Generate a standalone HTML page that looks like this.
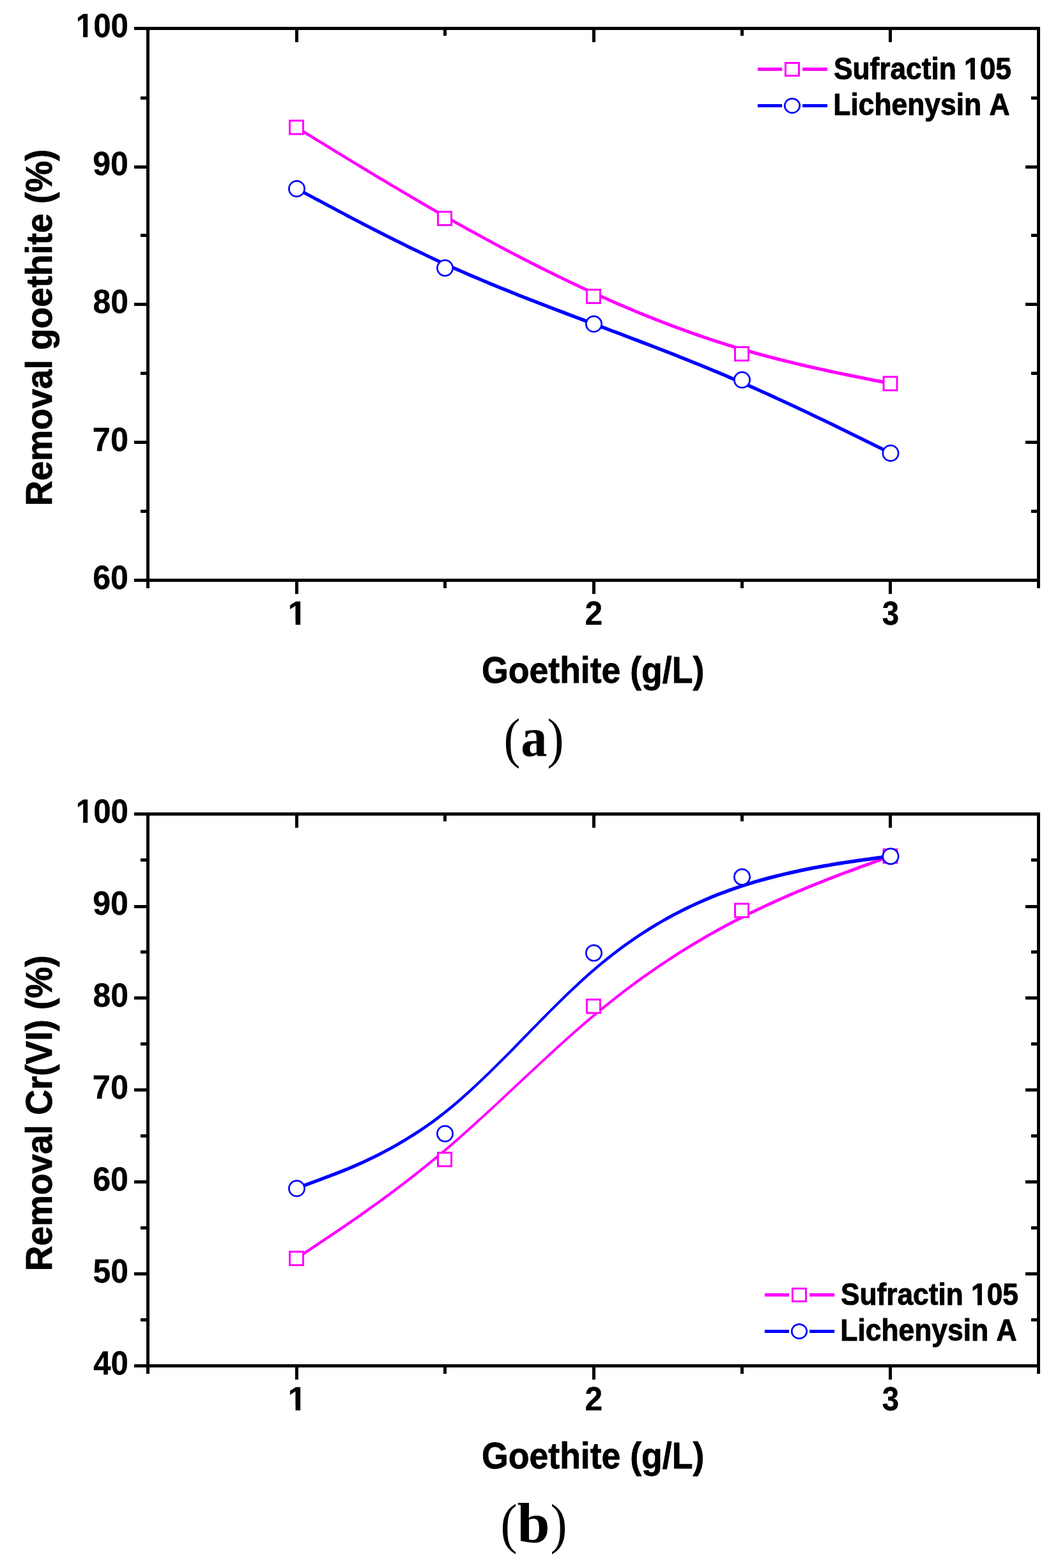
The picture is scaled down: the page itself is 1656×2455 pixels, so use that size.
<!DOCTYPE html>
<html lang="en"><head><meta charset="utf-8"><title>Removal of goethite and Cr(VI) versus goethite dose</title>
<style>html,body{margin:0;padding:0;background:#fff}body{width:1656px;height:2455px;overflow:hidden}svg{display:block}text{font-family:"Liberation Sans",Arial,Helvetica,sans-serif;font-weight:bold;fill:#000;font-kerning:none}.cap{font-family:"Liberation Serif","Times New Roman",serif;font-weight:normal}.cap .b{font-weight:bold}</style></head><body>
<svg width="1656" height="2455" viewBox="0 0 1656 2455">
<rect width="1656" height="2455" fill="#fff"/>
<g fill="#000" shape-rendering="crispEdges">
<rect x="210.0" y="42.0" width="1418.0" height="5.0"/>
<rect x="210.0" y="906.0" width="1418.0" height="5.0"/>
<rect x="229.0" y="42.0" width="5.0" height="879.0"/>
<rect x="1623.0" y="42.0" width="5.0" height="879.0"/>
<rect x="462.0" y="47.0" width="5.0" height="18.5"/>
<rect x="462.0" y="911.0" width="5.0" height="18.5"/>
<rect x="694.0" y="47.0" width="5.0" height="9"/>
<rect x="694.0" y="911.0" width="5.0" height="10"/>
<rect x="927.0" y="47.0" width="5.0" height="18.5"/>
<rect x="927.0" y="911.0" width="5.0" height="18.5"/>
<rect x="1159.0" y="47.0" width="5.0" height="9"/>
<rect x="1159.0" y="911.0" width="5.0" height="10"/>
<rect x="1391.0" y="47.0" width="5.0" height="18.5"/>
<rect x="1391.0" y="911.0" width="5.0" height="18.5"/>
<rect x="220.0" y="798.0" width="9" height="5.0"/>
<rect x="1614.0" y="798.0" width="9" height="5.0"/>
<rect x="210.0" y="690.0" width="19" height="5.0"/>
<rect x="1605.0" y="690.0" width="18" height="5.0"/>
<rect x="220.0" y="582.0" width="9" height="5.0"/>
<rect x="1614.0" y="582.0" width="9" height="5.0"/>
<rect x="210.0" y="474.0" width="19" height="5.0"/>
<rect x="1605.0" y="474.0" width="18" height="5.0"/>
<rect x="220.0" y="366.0" width="9" height="5.0"/>
<rect x="1614.0" y="366.0" width="9" height="5.0"/>
<rect x="210.0" y="259.0" width="19" height="5.0"/>
<rect x="1605.0" y="259.0" width="18" height="5.0"/>
<rect x="220.0" y="151.0" width="9" height="5.0"/>
<rect x="1614.0" y="151.0" width="9" height="5.0"/>
</g>
<g transform="translate(145.16 921.50) scale(0.9643 1)"><text font-size="52.02" stroke="#000" stroke-width="0.41" stroke-linejoin="round">60</text></g>
<g transform="translate(144.83 705.50) scale(0.9702 1)"><text font-size="52.02" stroke="#000" stroke-width="0.41" stroke-linejoin="round">70</text></g>
<g transform="translate(145.42 489.50) scale(0.9598 1)"><text font-size="52.02" stroke="#000" stroke-width="0.42" stroke-linejoin="round">80</text></g>
<g transform="translate(145.26 273.50) scale(0.9625 1)"><text font-size="52.02" stroke="#000" stroke-width="0.42" stroke-linejoin="round">90</text></g>
<g transform="translate(118.73 57.50) scale(0.9470 1)"><text font-size="52.02" stroke="#000" stroke-width="0.42" stroke-linejoin="round">100</text><rect x="1.78" y="-6.12" width="10.15" height="8.53" fill="#fff"/><rect x="19.49" y="-6.12" width="9.49" height="8.53" fill="#fff"/></g>
<g transform="translate(450.50 977.70) scale(1.0113 1)"><text font-size="52.02" stroke="#000" stroke-width="0.40" stroke-linejoin="round">1</text><rect x="1.78" y="-6.11" width="10.17" height="8.50" fill="#fff"/><rect x="19.48" y="-6.11" width="9.51" height="8.50" fill="#fff"/></g>
<g transform="translate(915.58 977.70) scale(0.9543 1)"><text font-size="52.02" stroke="#000" stroke-width="0.42" stroke-linejoin="round">2</text></g>
<g transform="translate(1380.71 977.70) scale(0.9127 1)"><text font-size="52.02" stroke="#000" stroke-width="0.44" stroke-linejoin="round">3</text></g>
<g transform="translate(754.10 1068.70) scale(0.9395 1)"><text font-size="57.04" stroke="#000" stroke-width="0.85" stroke-linejoin="round">Goethite (g/L)</text></g>
<text transform="translate(80.80 792.28) rotate(-90) scale(0.9634 1)" font-size="57.04" stroke="#000" stroke-width="0.83" stroke-linejoin="round">Removal goethite (%)</text>
<path d="M464.0 202.1L462.8 201.4L462.8 201.4L462.9 201.4L463.0 201.5L463.1 201.6L463.4 201.7L463.8 201.9L464.2 202.2L464.8 202.6L465.6 203.1L466.5 203.6L467.6 204.3L468.9 205.1L470.5 206.1L472.2 207.2L474.3 208.4L476.5 209.8L479.1 211.4L482.0 213.2L485.2 215.1L488.7 217.3L492.6 219.7L496.8 222.3L501.5 225.1L506.5 228.2L511.9 231.5L517.7 235.1L523.8 238.9L530.3 242.8L537.1 247.0L544.2 251.3L551.6 255.8L559.3 260.5L567.2 265.3L575.3 270.2L583.7 275.2L592.2 280.4L601.0 285.6L609.9 290.9L619.0 296.3L628.2 301.8L637.5 307.3L646.9 312.8L656.4 318.4L666.0 323.9L675.6 329.5L685.3 335.1L695.0 340.6L704.7 346.1L714.4 351.6L724.1 357.0L733.8 362.4L743.5 367.7L753.2 373.1L762.9 378.3L772.6 383.5L782.3 388.7L792.0 393.9L801.7 399.0L811.4 404.0L821.1 409.0L830.8 414.0L840.5 418.9L850.2 423.8L859.9 428.6L869.6 433.4L879.3 438.1L889.0 442.8L898.7 447.4L908.4 451.9L918.1 456.4L927.8 460.9L937.5 465.3L947.2 469.6L956.9 473.9L966.6 478.2L976.3 482.3L986.0 486.4L995.7 490.5L1005.3 494.5L1015.0 498.4L1024.7 502.3L1034.4 506.1L1044.1 509.8L1053.8 513.5L1063.5 517.1L1073.1 520.6L1082.8 524.1L1092.5 527.5L1102.2 530.8L1111.9 534.0L1121.6 537.2L1131.3 540.3L1141.0 543.4L1150.7 546.3L1160.4 549.2L1170.0 552.1L1179.7 554.8L1189.4 557.5L1198.9 560.0L1208.5 562.5L1217.9 565.0L1227.2 567.3L1236.5 569.6L1245.6 571.8L1254.5 573.9L1263.3 576.0L1271.8 577.9L1280.2 579.8L1288.4 581.6L1296.3 583.4L1304.0 585.0L1311.4 586.6L1318.5 588.1L1325.3 589.5L1331.8 590.8L1338.0 592.1L1343.8 593.2L1349.2 594.3L1354.2 595.3L1358.9 596.3L1363.1 597.1L1367.0 597.9L1370.6 598.6L1373.8 599.3L1376.6 599.8L1379.2 600.3L1381.5 600.8L1383.5 601.2L1385.3 601.6L1386.8 601.9L1388.1 602.1L1389.2 602.3L1390.2 602.5L1390.9 602.7L1391.5 602.8L1392.0 602.9L1392.4 603.0L1392.6 603.0L1392.8 603.1L1392.9 603.1L1393.0 603.1L1393.0 603.1L1393.0 603.1L1394.0 597.9L1394.0 597.9L1394.0 597.9L1393.9 597.9L1393.8 597.9L1393.7 597.8L1393.4 597.8L1393.1 597.7L1392.6 597.6L1392.0 597.5L1391.2 597.3L1390.3 597.2L1389.2 596.9L1387.9 596.7L1386.3 596.4L1384.6 596.0L1382.5 595.6L1380.2 595.1L1377.7 594.6L1374.8 594.1L1371.6 593.4L1368.1 592.7L1364.2 591.9L1359.9 591.1L1355.3 590.2L1350.2 589.1L1344.8 588.1L1339.0 586.9L1332.9 585.6L1326.4 584.3L1319.6 582.9L1312.5 581.4L1305.1 579.9L1297.4 578.2L1289.5 576.5L1281.4 574.7L1273.0 572.8L1264.4 570.9L1255.7 568.8L1246.8 566.7L1237.7 564.5L1228.5 562.3L1219.2 559.9L1209.8 557.5L1200.3 555.0L1190.7 552.4L1181.1 549.8L1171.5 547.1L1161.8 544.3L1152.2 541.4L1142.5 538.4L1132.8 535.4L1123.2 532.3L1113.5 529.2L1103.9 525.9L1094.2 522.6L1084.5 519.3L1074.9 515.8L1065.2 512.3L1055.6 508.7L1045.9 505.1L1036.2 501.4L1026.6 497.6L1016.9 493.7L1007.2 489.8L997.6 485.9L987.9 481.8L978.2 477.8L968.6 473.6L958.9 469.4L949.2 465.1L939.5 460.8L929.9 456.4L920.2 452.0L910.5 447.5L900.8 443.0L891.1 438.4L881.4 433.7L871.7 429.0L862.1 424.3L852.4 419.5L842.7 414.6L833.0 409.7L823.3 404.8L813.6 399.8L803.9 394.7L794.2 389.7L784.5 384.5L774.8 379.4L765.1 374.1L755.5 368.9L745.8 363.6L736.1 358.3L726.4 352.9L716.7 347.5L707.0 342.0L697.3 336.5L687.6 331.0L678.0 325.5L668.4 319.9L658.8 314.3L649.3 308.8L639.9 303.3L630.5 297.8L621.3 292.3L612.3 286.9L603.4 281.6L594.6 276.4L586.0 271.3L577.7 266.2L569.5 261.3L561.6 256.5L554.0 251.9L546.6 247.4L539.5 243.1L532.7 238.9L526.2 234.9L520.1 231.2L514.3 227.6L508.9 224.3L503.9 221.2L499.2 218.4L495.0 215.7L491.1 213.4L487.6 211.2L484.4 209.2L481.5 207.5L478.9 205.9L476.7 204.5L474.6 203.2L472.9 202.2L471.3 201.2L470.0 200.4L468.9 199.7L468.0 199.2L467.2 198.7L466.6 198.3L466.2 198.0L465.8 197.8L465.6 197.7L465.4 197.6L465.3 197.5L465.2 197.5L465.2 197.4L464.0 196.7Z" fill="#ff00ff"/>
<rect x="453.50" y="188.90" width="21.0" height="21.0" fill="#fff" stroke="#ff00ff" stroke-width="3.0"/>
<rect x="685.50" y="331.50" width="21.0" height="21.0" fill="#fff" stroke="#ff00ff" stroke-width="3.0"/>
<rect x="918.50" y="453.50" width="21.0" height="21.0" fill="#fff" stroke="#ff00ff" stroke-width="3.0"/>
<rect x="1150.50" y="543.50" width="21.0" height="21.0" fill="#fff" stroke="#ff00ff" stroke-width="3.0"/>
<rect x="1383.00" y="590.00" width="21.0" height="21.0" fill="#fff" stroke="#ff00ff" stroke-width="3.0"/>
<path d="M464.0 298.1L462.8 297.5L462.8 297.5L462.9 297.5L463.0 297.6L463.1 297.6L463.4 297.8L463.8 298.0L464.2 298.2L464.8 298.5L465.6 299.0L466.5 299.4L467.6 300.0L468.9 300.7L470.5 301.6L472.2 302.5L474.3 303.6L476.5 304.8L479.1 306.2L482.0 307.7L485.2 309.4L488.7 311.3L492.6 313.4L496.8 315.7L501.5 318.1L506.5 320.8L511.9 323.7L517.7 326.8L523.8 330.1L530.3 333.5L537.1 337.1L544.2 340.9L551.6 344.7L559.3 348.7L567.2 352.9L575.3 357.1L583.7 361.4L592.2 365.8L601.0 370.2L609.9 374.7L619.0 379.2L628.2 383.8L637.5 388.4L647.0 393.0L656.5 397.6L666.1 402.1L675.7 406.7L685.4 411.2L695.1 415.6L704.8 420.0L714.5 424.4L724.2 428.6L733.9 432.9L743.6 437.0L753.3 441.1L763.0 445.2L772.7 449.2L782.4 453.2L792.1 457.1L801.8 461.0L811.5 464.9L821.2 468.7L830.9 472.5L840.6 476.3L850.3 480.1L860.0 483.8L869.7 487.5L879.4 491.2L889.1 494.9L898.8 498.5L908.5 502.2L918.2 505.9L927.9 509.5L937.6 513.2L947.2 516.8L956.9 520.5L966.6 524.1L976.3 527.8L986.0 531.5L995.6 535.2L1005.3 538.9L1015.0 542.6L1024.7 546.3L1034.3 550.1L1044.0 553.8L1053.7 557.6L1063.3 561.4L1073.0 565.3L1082.7 569.2L1092.3 573.1L1102.0 577.0L1111.7 581.0L1121.3 585.0L1131.0 589.1L1140.7 593.2L1150.4 597.3L1160.0 601.5L1169.7 605.7L1179.3 610.0L1189.0 614.3L1198.5 618.6L1208.0 622.9L1217.5 627.2L1226.8 631.5L1236.0 635.8L1245.0 640.0L1254.0 644.2L1262.7 648.3L1271.3 652.4L1279.7 656.4L1287.8 660.3L1295.7 664.1L1303.4 667.8L1310.8 671.4L1317.9 674.9L1324.7 678.2L1331.2 681.4L1337.3 684.4L1343.1 687.3L1348.6 689.9L1353.6 692.4L1358.2 694.7L1362.5 696.8L1366.4 698.7L1369.9 700.5L1373.1 702.0L1376.0 703.5L1378.6 704.7L1380.9 705.9L1382.9 706.9L1384.7 707.7L1386.2 708.5L1387.5 709.1L1388.6 709.7L1389.5 710.1L1390.3 710.5L1390.9 710.8L1391.4 711.1L1391.7 711.2L1392.0 711.4L1392.2 711.4L1392.3 711.5L1392.3 711.5L1392.3 711.5L1392.3 711.5L1394.7 706.9L1394.6 706.9L1394.6 706.9L1394.6 706.8L1394.5 706.8L1394.3 706.7L1394.0 706.6L1393.7 706.4L1393.2 706.2L1392.6 705.9L1391.8 705.5L1390.9 705.0L1389.8 704.5L1388.5 703.8L1387.0 703.1L1385.2 702.2L1383.2 701.2L1380.9 700.1L1378.3 698.8L1375.4 697.4L1372.2 695.8L1368.7 694.1L1364.8 692.1L1360.5 690.0L1355.9 687.8L1350.9 685.3L1345.4 682.6L1339.6 679.7L1333.5 676.7L1327.0 673.5L1320.2 670.2L1313.1 666.7L1305.7 663.1L1298.0 659.4L1290.1 655.6L1281.9 651.7L1273.5 647.7L1265.0 643.6L1256.2 639.4L1247.3 635.2L1238.2 631.0L1229.0 626.7L1219.7 622.4L1210.2 618.1L1200.7 613.7L1191.1 609.4L1181.5 605.1L1171.8 600.8L1162.1 596.6L1152.5 592.4L1142.8 588.2L1133.1 584.1L1123.4 580.1L1113.7 576.0L1104.1 572.1L1094.4 568.1L1084.7 564.2L1075.0 560.3L1065.3 556.4L1055.7 552.6L1046.0 548.8L1036.3 545.0L1026.6 541.3L1016.9 537.5L1007.3 533.8L997.6 530.1L987.9 526.4L978.2 522.7L968.5 519.0L958.8 515.4L949.2 511.7L939.5 508.1L929.8 504.4L920.1 500.8L910.4 497.1L900.7 493.5L891.0 489.8L881.3 486.1L871.6 482.4L862.0 478.7L852.3 475.0L842.6 471.3L832.9 467.5L823.2 463.7L813.5 459.9L803.8 456.0L794.1 452.1L784.4 448.2L774.7 444.3L765.0 440.3L755.4 436.2L745.7 432.1L736.0 428.0L726.3 423.8L716.6 419.5L706.9 415.2L697.3 410.8L687.6 406.4L677.9 401.9L668.3 397.4L658.7 392.8L649.2 388.3L639.8 383.7L630.5 379.1L621.3 374.6L612.2 370.1L603.3 365.6L594.6 361.1L586.0 356.8L577.7 352.5L569.5 348.3L561.6 344.2L554.0 340.2L546.6 336.3L539.5 332.6L532.7 329.0L526.2 325.6L520.1 322.3L514.3 319.2L508.9 316.3L503.9 313.6L499.2 311.1L495.0 308.9L491.1 306.8L487.6 304.9L484.4 303.2L481.5 301.7L478.9 300.3L476.7 299.1L474.6 298.0L472.9 297.1L471.4 296.2L470.0 295.5L468.9 294.9L468.0 294.4L467.2 294.0L466.6 293.7L466.2 293.5L465.8 293.3L465.6 293.1L465.4 293.0L465.3 293.0L465.2 293.0L465.2 292.9L464.0 292.3Z" fill="#0000ff"/>
<ellipse cx="464.50" cy="295.50" rx="12.15" ry="12.15" fill="#fff" stroke="#0000ff" stroke-width="2.7"/>
<ellipse cx="696.50" cy="419.60" rx="12.15" ry="12.15" fill="#fff" stroke="#0000ff" stroke-width="2.7"/>
<ellipse cx="929.50" cy="507.30" rx="12.15" ry="12.15" fill="#fff" stroke="#0000ff" stroke-width="2.7"/>
<ellipse cx="1161.50" cy="594.80" rx="12.15" ry="12.15" fill="#fff" stroke="#0000ff" stroke-width="2.7"/>
<ellipse cx="1394.00" cy="709.50" rx="12.15" ry="12.15" fill="#fff" stroke="#0000ff" stroke-width="2.7"/>
<path d="M1185.9 108.4h38.2M1256.1 108.4h39" fill="none" stroke="#ff00ff" stroke-width="5.1" stroke-linecap="butt"/>
<rect x="1229.45" y="98.50" width="21.1" height="20.0" fill="#fff" stroke="#ff00ff" stroke-width="3.0"/>
<path d="M1185.9 165.5h38.2M1256.1 165.5h39" fill="none" stroke="#0000ff" stroke-width="5.1" stroke-linecap="butt"/>
<ellipse cx="1240.00" cy="165.50" rx="11.75" ry="11.15" fill="#fff" stroke="#0000ff" stroke-width="2.7"/>
<g transform="translate(1304.97 123.55) scale(0.9205 1)"><text font-size="48.09" stroke="#000" stroke-width="0.98" stroke-linejoin="round">Sufractin 105</text><rect x="223.32" y="-6.00" width="9.21" height="8.69" fill="#fff"/><rect x="240.10" y="-6.00" width="8.60" height="8.69" fill="#fff"/></g>
<g transform="translate(1304.28 180.45) scale(0.9236 1)"><text font-size="48.09" stroke="#000" stroke-width="0.97" stroke-linejoin="round">Lichenysin A</text></g>
<g fill="#000" shape-rendering="crispEdges">
<rect x="210.0" y="1272.0" width="1418.0" height="5.0"/>
<rect x="210.0" y="2136.0" width="1418.0" height="5.0"/>
<rect x="229.0" y="1272.0" width="5.0" height="879.0"/>
<rect x="1623.0" y="1272.0" width="5.0" height="879.0"/>
<rect x="462.0" y="1277.0" width="5.0" height="18.5"/>
<rect x="462.0" y="2141.0" width="5.0" height="18.5"/>
<rect x="694.0" y="1277.0" width="5.0" height="9"/>
<rect x="694.0" y="2141.0" width="5.0" height="10"/>
<rect x="927.0" y="1277.0" width="5.0" height="18.5"/>
<rect x="927.0" y="2141.0" width="5.0" height="18.5"/>
<rect x="1159.0" y="1277.0" width="5.0" height="9"/>
<rect x="1159.0" y="2141.0" width="5.0" height="10"/>
<rect x="1391.0" y="1277.0" width="5.0" height="18.5"/>
<rect x="1391.0" y="2141.0" width="5.0" height="18.5"/>
<rect x="220.0" y="2064.0" width="9" height="5.0"/>
<rect x="1614.0" y="2064.0" width="9" height="5.0"/>
<rect x="210.0" y="1992.0" width="19" height="5.0"/>
<rect x="1605.0" y="1992.0" width="18" height="5.0"/>
<rect x="220.0" y="1920.0" width="9" height="5.0"/>
<rect x="1614.0" y="1920.0" width="9" height="5.0"/>
<rect x="210.0" y="1848.0" width="19" height="5.0"/>
<rect x="1605.0" y="1848.0" width="18" height="5.0"/>
<rect x="220.0" y="1776.0" width="9" height="5.0"/>
<rect x="1614.0" y="1776.0" width="9" height="5.0"/>
<rect x="210.0" y="1704.0" width="19" height="5.0"/>
<rect x="1605.0" y="1704.0" width="18" height="5.0"/>
<rect x="220.0" y="1632.0" width="9" height="5.0"/>
<rect x="1614.0" y="1632.0" width="9" height="5.0"/>
<rect x="210.0" y="1560.0" width="19" height="5.0"/>
<rect x="1605.0" y="1560.0" width="18" height="5.0"/>
<rect x="220.0" y="1488.0" width="9" height="5.0"/>
<rect x="1614.0" y="1488.0" width="9" height="5.0"/>
<rect x="210.0" y="1417.0" width="19" height="5.0"/>
<rect x="1605.0" y="1417.0" width="18" height="5.0"/>
<rect x="220.0" y="1344.0" width="9" height="5.0"/>
<rect x="1614.0" y="1344.0" width="9" height="5.0"/>
</g>
<g transform="translate(146.26 2151.50) scale(0.9447 1)"><text font-size="52.02" stroke="#000" stroke-width="0.42" stroke-linejoin="round">40</text></g>
<g transform="translate(145.47 2007.50) scale(0.9589 1)"><text font-size="52.02" stroke="#000" stroke-width="0.42" stroke-linejoin="round">50</text></g>
<g transform="translate(145.16 1863.50) scale(0.9643 1)"><text font-size="52.02" stroke="#000" stroke-width="0.41" stroke-linejoin="round">60</text></g>
<g transform="translate(144.83 1719.50) scale(0.9702 1)"><text font-size="52.02" stroke="#000" stroke-width="0.41" stroke-linejoin="round">70</text></g>
<g transform="translate(145.42 1575.50) scale(0.9598 1)"><text font-size="52.02" stroke="#000" stroke-width="0.42" stroke-linejoin="round">80</text></g>
<g transform="translate(145.26 1431.50) scale(0.9625 1)"><text font-size="52.02" stroke="#000" stroke-width="0.42" stroke-linejoin="round">90</text></g>
<g transform="translate(118.73 1287.50) scale(0.9470 1)"><text font-size="52.02" stroke="#000" stroke-width="0.42" stroke-linejoin="round">100</text><rect x="1.78" y="-6.12" width="10.15" height="8.53" fill="#fff"/><rect x="19.49" y="-6.12" width="9.49" height="8.53" fill="#fff"/></g>
<g transform="translate(450.50 2207.70) scale(1.0113 1)"><text font-size="52.02" stroke="#000" stroke-width="0.40" stroke-linejoin="round">1</text><rect x="1.78" y="-6.11" width="10.17" height="8.50" fill="#fff"/><rect x="19.48" y="-6.11" width="9.51" height="8.50" fill="#fff"/></g>
<g transform="translate(915.58 2207.70) scale(0.9543 1)"><text font-size="52.02" stroke="#000" stroke-width="0.42" stroke-linejoin="round">2</text></g>
<g transform="translate(1380.71 2207.70) scale(0.9127 1)"><text font-size="52.02" stroke="#000" stroke-width="0.44" stroke-linejoin="round">3</text></g>
<g transform="translate(754.10 2298.70) scale(0.9395 1)"><text font-size="57.04" stroke="#000" stroke-width="0.85" stroke-linejoin="round">Goethite (g/L)</text></g>
<text transform="translate(80.80 1990.18) rotate(-90) scale(0.9634 1)" font-size="57.04" stroke="#000" stroke-width="0.83" stroke-linejoin="round">Removal Cr(VI) (%)</text>
<path d="M464.0 1972.9L465.2 1972.1L465.2 1972.1L465.3 1972.1L465.4 1972.0L465.6 1971.9L465.8 1971.7L466.2 1971.5L466.7 1971.2L467.3 1970.8L468.0 1970.3L468.9 1969.6L470.1 1968.9L471.4 1968.0L472.9 1967.0L474.7 1965.8L476.7 1964.5L479.0 1963.0L481.5 1961.2L484.4 1959.3L487.6 1957.2L491.1 1954.8L495.0 1952.2L499.3 1949.4L503.9 1946.3L508.9 1943.0L514.3 1939.3L520.1 1935.4L526.3 1931.3L532.8 1926.9L539.5 1922.3L546.7 1917.4L554.0 1912.3L561.7 1906.9L569.6 1901.4L577.7 1895.6L586.1 1889.6L594.7 1883.4L603.4 1877.0L612.3 1870.4L621.4 1863.6L630.6 1856.6L640.0 1849.4L649.4 1842.0L658.9 1834.5L668.5 1826.8L678.1 1819.0L687.8 1810.9L697.5 1802.8L707.2 1794.5L716.9 1786.0L726.6 1777.4L736.2 1768.8L745.9 1760.0L755.6 1751.1L765.3 1742.2L775.0 1733.2L784.7 1724.2L794.4 1715.1L804.1 1706.0L813.8 1697.0L823.5 1687.9L833.2 1678.8L842.9 1669.8L852.6 1660.8L862.3 1651.9L872.0 1643.0L881.7 1634.2L891.4 1625.6L901.1 1617.0L910.8 1608.5L920.5 1600.2L930.1 1592.0L939.8 1584.0L949.5 1576.2L959.2 1568.4L968.9 1560.9L978.5 1553.5L988.2 1546.2L997.9 1539.1L1007.5 1532.1L1017.2 1525.3L1026.9 1518.6L1036.5 1512.0L1046.2 1505.6L1055.9 1499.3L1065.5 1493.1L1075.2 1487.1L1084.9 1481.2L1094.5 1475.4L1104.2 1469.8L1113.8 1464.3L1123.5 1458.9L1133.2 1453.6L1142.8 1448.4L1152.5 1443.4L1162.2 1438.4L1171.8 1433.6L1181.5 1428.9L1191.1 1424.3L1200.6 1419.8L1210.1 1415.5L1219.5 1411.2L1228.9 1407.1L1238.1 1403.1L1247.1 1399.2L1256.0 1395.5L1264.8 1391.8L1273.3 1388.3L1281.7 1385.0L1289.8 1381.7L1297.8 1378.6L1305.4 1375.7L1312.8 1372.8L1319.9 1370.1L1326.7 1367.6L1333.2 1365.2L1339.3 1362.9L1345.1 1360.8L1350.6 1358.8L1355.6 1356.9L1360.3 1355.2L1364.5 1353.7L1368.4 1352.2L1371.9 1350.9L1375.1 1349.8L1378.0 1348.7L1380.6 1347.8L1382.9 1346.9L1384.9 1346.2L1386.7 1345.6L1388.2 1345.0L1389.5 1344.5L1390.6 1344.1L1391.6 1343.8L1392.3 1343.5L1392.9 1343.3L1393.4 1343.1L1393.7 1343.0L1394.0 1342.9L1394.2 1342.8L1394.3 1342.8L1394.3 1342.7L1394.4 1342.7L1394.4 1342.7L1392.6 1338.1L1392.6 1338.1L1392.6 1338.1L1392.6 1338.1L1392.5 1338.1L1392.3 1338.2L1392.0 1338.3L1391.7 1338.4L1391.2 1338.6L1390.6 1338.8L1389.8 1339.1L1388.9 1339.4L1387.8 1339.8L1386.5 1340.3L1385.0 1340.9L1383.2 1341.5L1381.2 1342.3L1378.9 1343.1L1376.3 1344.0L1373.4 1345.1L1370.2 1346.3L1366.7 1347.6L1362.8 1349.0L1358.5 1350.5L1353.9 1352.2L1348.9 1354.1L1343.4 1356.1L1337.6 1358.2L1331.5 1360.5L1325.0 1362.9L1318.2 1365.5L1311.0 1368.2L1303.6 1371.1L1296.0 1374.0L1288.0 1377.2L1279.9 1380.4L1271.5 1383.8L1262.9 1387.3L1254.1 1391.0L1245.2 1394.7L1236.1 1398.6L1226.9 1402.7L1217.6 1406.8L1208.1 1411.1L1198.6 1415.5L1189.0 1420.0L1179.4 1424.6L1169.7 1429.3L1160.0 1434.2L1150.3 1439.2L1140.6 1444.3L1130.9 1449.5L1121.3 1454.8L1111.6 1460.2L1101.9 1465.8L1092.2 1471.5L1082.5 1477.3L1072.8 1483.3L1063.1 1489.3L1053.5 1495.5L1043.8 1501.9L1034.1 1508.3L1024.4 1515.0L1014.7 1521.7L1005.0 1528.6L995.3 1535.6L985.7 1542.8L976.0 1550.1L966.3 1557.6L956.6 1565.2L946.9 1572.9L937.2 1580.9L927.5 1588.9L917.8 1597.1L908.1 1605.5L898.4 1614.0L888.8 1622.6L879.1 1631.3L869.4 1640.1L859.7 1649.0L850.0 1658.0L840.3 1667.0L830.6 1676.0L820.9 1685.1L811.2 1694.1L801.5 1703.2L791.8 1712.3L782.1 1721.4L772.4 1730.4L762.7 1739.3L753.0 1748.2L743.3 1757.1L733.6 1765.8L723.9 1774.5L714.2 1783.0L704.5 1791.4L694.9 1799.7L685.2 1807.8L675.5 1815.8L665.9 1823.6L656.3 1831.3L646.8 1838.8L637.4 1846.1L628.1 1853.2L618.9 1860.2L609.8 1867.0L600.9 1873.5L592.2 1879.9L583.6 1886.1L575.2 1892.1L567.1 1897.8L559.2 1903.4L551.6 1908.7L544.2 1913.8L537.1 1918.7L530.3 1923.3L523.8 1927.7L517.7 1931.8L511.9 1935.7L506.5 1939.3L501.4 1942.7L496.8 1945.7L492.6 1948.6L488.7 1951.2L485.2 1953.5L482.0 1955.7L479.1 1957.6L476.5 1959.3L474.2 1960.8L472.2 1962.2L470.5 1963.3L468.9 1964.4L467.6 1965.2L466.5 1966.0L465.6 1966.6L464.8 1967.1L464.2 1967.5L463.7 1967.8L463.4 1968.1L463.1 1968.2L463.0 1968.3L462.9 1968.4L462.8 1968.5L462.8 1968.5L464.0 1967.6Z" fill="#ff00ff"/>
<rect x="453.50" y="1959.80" width="21.0" height="21.0" fill="#fff" stroke="#ff00ff" stroke-width="3.0"/>
<rect x="685.50" y="1804.90" width="21.0" height="21.0" fill="#fff" stroke="#ff00ff" stroke-width="3.0"/>
<rect x="918.50" y="1565.00" width="21.0" height="21.0" fill="#fff" stroke="#ff00ff" stroke-width="3.0"/>
<rect x="1150.50" y="1415.00" width="21.0" height="21.0" fill="#fff" stroke="#ff00ff" stroke-width="3.0"/>
<rect x="1383.00" y="1329.90" width="21.0" height="21.0" fill="#fff" stroke="#ff00ff" stroke-width="3.0"/>
<path d="M464.0 1863.3L464.9 1863.0L464.9 1863.0L465.0 1863.0L465.1 1862.9L465.3 1862.9L465.5 1862.8L465.9 1862.7L466.4 1862.5L467.0 1862.3L467.7 1862.0L468.7 1861.6L469.8 1861.2L471.1 1860.7L472.6 1860.2L474.4 1859.5L476.4 1858.8L478.7 1857.9L481.2 1857.0L484.1 1855.9L487.3 1854.7L490.8 1853.4L494.7 1852.0L499.0 1850.4L503.6 1848.7L508.6 1846.8L514.1 1844.8L519.9 1842.6L526.0 1840.2L532.5 1837.7L539.3 1834.9L546.4 1832.0L553.8 1828.9L561.5 1825.5L569.4 1821.9L577.6 1818.1L586.0 1814.0L594.6 1809.7L603.3 1805.1L612.3 1800.3L621.4 1795.2L630.6 1789.8L639.9 1784.1L649.4 1778.2L658.9 1771.9L668.5 1765.3L678.2 1758.4L687.9 1751.2L697.6 1743.6L707.3 1735.7L717.0 1727.5L726.7 1719.0L736.3 1710.2L746.0 1701.2L755.7 1692.0L765.4 1682.7L775.1 1673.1L784.8 1663.5L794.5 1653.7L804.3 1643.9L814.0 1634.0L823.7 1624.1L833.4 1614.1L843.0 1604.2L852.7 1594.4L862.4 1584.6L872.1 1575.0L881.8 1565.5L891.5 1556.1L901.2 1546.9L910.9 1537.9L920.6 1529.2L930.2 1520.7L939.9 1512.6L949.6 1504.7L959.3 1497.0L968.9 1489.7L978.6 1482.6L988.3 1475.7L997.9 1469.1L1007.6 1462.8L1017.2 1456.7L1026.9 1450.8L1036.5 1445.1L1046.2 1439.7L1055.8 1434.5L1065.5 1429.5L1075.1 1424.7L1084.8 1420.1L1094.4 1415.7L1104.1 1411.5L1113.7 1407.4L1123.4 1403.6L1133.0 1399.9L1142.6 1396.4L1152.3 1393.0L1161.9 1389.8L1171.6 1386.8L1181.2 1383.8L1190.8 1381.1L1200.3 1378.4L1209.8 1375.9L1219.2 1373.6L1228.5 1371.3L1237.7 1369.2L1246.8 1367.2L1255.7 1365.3L1264.4 1363.5L1272.9 1361.8L1281.3 1360.3L1289.4 1358.8L1297.3 1357.4L1305.0 1356.1L1312.4 1354.9L1319.5 1353.8L1326.3 1352.7L1332.7 1351.8L1338.9 1350.9L1344.7 1350.1L1350.1 1349.3L1355.1 1348.6L1359.8 1347.9L1364.0 1347.4L1367.9 1346.8L1371.5 1346.3L1374.7 1345.9L1377.5 1345.5L1380.1 1345.1L1382.4 1344.8L1384.4 1344.5L1386.2 1344.3L1387.7 1344.1L1389.0 1343.9L1390.2 1343.7L1391.1 1343.6L1391.8 1343.5L1392.5 1343.4L1392.9 1343.3L1393.3 1343.3L1393.5 1343.2L1393.7 1343.2L1393.8 1343.2L1393.9 1343.2L1393.9 1343.2L1393.9 1343.2L1393.1 1337.6L1393.1 1337.6L1393.1 1337.6L1393.0 1337.6L1392.9 1337.6L1392.8 1337.7L1392.5 1337.7L1392.1 1337.7L1391.7 1337.8L1391.1 1337.9L1390.3 1338.0L1389.4 1338.1L1388.3 1338.3L1387.0 1338.5L1385.4 1338.7L1383.6 1338.9L1381.6 1339.2L1379.3 1339.5L1376.8 1339.9L1373.9 1340.3L1370.7 1340.7L1367.2 1341.2L1363.3 1341.8L1359.0 1342.4L1354.4 1343.0L1349.3 1343.7L1343.9 1344.5L1338.1 1345.3L1331.9 1346.2L1325.4 1347.2L1318.6 1348.2L1311.5 1349.3L1304.1 1350.6L1296.4 1351.9L1288.4 1353.3L1280.3 1354.7L1271.9 1356.3L1263.3 1358.0L1254.5 1359.8L1245.6 1361.7L1236.5 1363.8L1227.2 1365.9L1217.9 1368.2L1208.4 1370.6L1198.9 1373.1L1189.3 1375.8L1179.6 1378.6L1170.0 1381.6L1160.2 1384.7L1150.5 1387.9L1140.8 1391.3L1131.1 1394.9L1121.4 1398.6L1111.7 1402.6L1102.0 1406.7L1092.3 1410.9L1082.6 1415.4L1072.9 1420.1L1063.2 1425.0L1053.5 1430.0L1043.8 1435.3L1034.1 1440.9L1024.4 1446.6L1014.7 1452.6L1005.0 1458.8L995.3 1465.2L985.6 1471.9L975.9 1478.8L966.2 1486.0L956.5 1493.5L946.8 1501.2L937.1 1509.2L927.4 1517.5L917.7 1526.0L908.0 1534.8L898.3 1543.9L888.6 1553.1L879.0 1562.5L869.3 1572.1L859.6 1581.8L849.8 1591.6L840.1 1601.4L830.4 1611.3L820.7 1621.2L811.0 1631.1L801.4 1641.0L791.7 1650.9L782.0 1660.6L772.3 1670.2L762.6 1679.7L752.9 1689.1L743.2 1698.2L733.5 1707.1L723.8 1715.8L714.1 1724.2L704.5 1732.3L694.8 1740.1L685.1 1747.6L675.5 1754.7L665.9 1761.5L656.3 1768.0L646.8 1774.1L637.4 1780.0L628.1 1785.6L618.9 1790.9L609.9 1795.9L601.0 1800.7L592.3 1805.2L583.7 1809.4L575.4 1813.4L567.3 1817.2L559.4 1820.7L551.8 1824.0L544.4 1827.2L537.3 1830.1L530.5 1832.8L524.1 1835.3L518.0 1837.6L512.2 1839.8L506.8 1841.8L501.7 1843.7L497.1 1845.4L492.9 1847.0L489.0 1848.4L485.4 1849.7L482.3 1850.9L479.4 1852.0L476.8 1852.9L474.5 1853.8L472.5 1854.5L470.7 1855.2L469.2 1855.7L467.9 1856.2L466.8 1856.6L465.9 1857.0L465.1 1857.2L464.5 1857.5L464.0 1857.6L463.7 1857.8L463.4 1857.9L463.3 1857.9L463.1 1858.0L463.1 1858.0L463.1 1858.0L464.0 1857.6Z" fill="#0000ff"/>
<ellipse cx="464.50" cy="1860.80" rx="12.15" ry="12.15" fill="#fff" stroke="#0000ff" stroke-width="2.7"/>
<ellipse cx="696.50" cy="1775.00" rx="12.15" ry="12.15" fill="#fff" stroke="#0000ff" stroke-width="2.7"/>
<ellipse cx="929.50" cy="1492.10" rx="12.15" ry="12.15" fill="#fff" stroke="#0000ff" stroke-width="2.7"/>
<ellipse cx="1161.50" cy="1373.10" rx="12.15" ry="12.15" fill="#fff" stroke="#0000ff" stroke-width="2.7"/>
<ellipse cx="1394.00" cy="1340.70" rx="12.15" ry="12.15" fill="#fff" stroke="#0000ff" stroke-width="2.7"/>
<path d="M1196.9 2027.4h38.2M1267.1 2027.4h39" fill="none" stroke="#ff00ff" stroke-width="5.1" stroke-linecap="butt"/>
<rect x="1240.45" y="2017.50" width="21.1" height="20.0" fill="#fff" stroke="#ff00ff" stroke-width="3.0"/>
<path d="M1196.9 2084.5h38.2M1267.1 2084.5h39" fill="none" stroke="#0000ff" stroke-width="5.1" stroke-linecap="butt"/>
<ellipse cx="1251.00" cy="2084.50" rx="11.75" ry="11.15" fill="#fff" stroke="#0000ff" stroke-width="2.7"/>
<g transform="translate(1315.97 2042.55) scale(0.9205 1)"><text font-size="48.09" stroke="#000" stroke-width="0.98" stroke-linejoin="round">Sufractin 105</text><rect x="223.32" y="-6.00" width="9.21" height="8.69" fill="#fff"/><rect x="240.10" y="-6.00" width="8.60" height="8.69" fill="#fff"/></g>
<g transform="translate(1315.28 2099.45) scale(0.9236 1)"><text font-size="48.09" stroke="#000" stroke-width="0.97" stroke-linejoin="round">Lichenysin A</text></g>
<text class="cap" y="1184.7"><tspan x="788.58" y="1184.66" font-size="86.13" textLength="25.93" lengthAdjust="spacingAndGlyphs">(</tspan><tspan class="b" x="815.24" y="1184.16" font-size="86.01" textLength="41.20" lengthAdjust="spacingAndGlyphs">a</tspan><tspan x="856.38" y="1184.66" font-size="86.13" textLength="26.06" lengthAdjust="spacingAndGlyphs">)</tspan></text>
<text class="cap" y="2415.6"><tspan x="783.56" y="2414.66" font-size="86.13" textLength="26.06" lengthAdjust="spacingAndGlyphs">(</tspan><tspan class="b" x="809.63" y="2415.03" font-size="89.54" textLength="51.20" lengthAdjust="spacingAndGlyphs">b</tspan><tspan x="861.38" y="2414.66" font-size="86.13" textLength="26.06" lengthAdjust="spacingAndGlyphs">)</tspan></text>
</svg></body></html>
